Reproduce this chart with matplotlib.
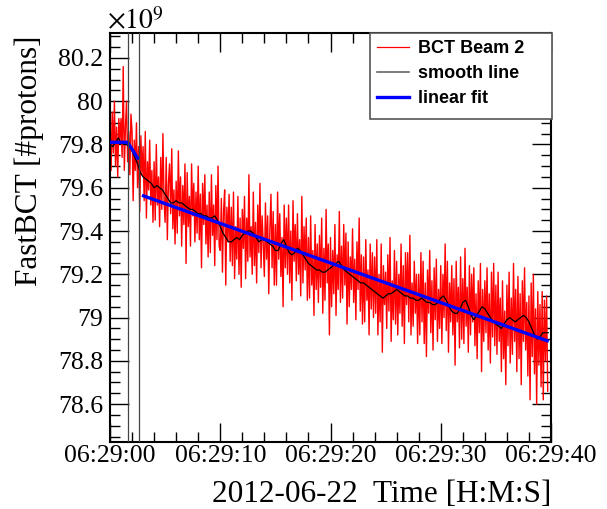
import matplotlib
matplotlib.use("Agg")
import matplotlib.pyplot as plt
from matplotlib.ticker import MultipleLocator, FuncFormatter
from matplotlib.lines import Line2D
from matplotlib.patches import Rectangle
import numpy as np

plt.rcParams["mathtext.fontset"] = "stix"

# ---- data (values in units of 1e9 protons, time in seconds after 06:29:00) ----
red_dt = 0.1
red_values = [
    79.85, 79.68, 79.95, 79.76, 80.00, 79.70, 79.88, 79.65, 79.92, 79.82,
    79.92, 79.74, 80.16, 79.68, 79.88, 80.00, 79.72, 79.86, 79.66, 79.94,
    79.86, 79.54, 79.82, 79.68, 79.90, 79.60, 79.79, 79.49, 79.84, 79.66,
    79.79, 79.54, 79.86, 79.46, 79.72, 79.59, 79.82, 79.52, 79.68, 79.44,
    79.72, 79.45, 79.80, 79.52, 79.65, 79.42, 79.74, 79.50, 79.85, 79.54,
    79.44, 79.74, 79.36, 79.62, 79.71, 79.48, 79.78, 79.41, 79.59, 79.34,
    79.63, 79.39, 79.77, 79.47, 79.65, 79.33, 79.61, 79.43, 79.71, 79.25,
    79.67, 79.42, 79.56, 79.33, 79.71, 79.47, 79.62, 79.35, 79.58, 79.39,
    79.70, 79.36, 79.57, 79.23, 79.62, 79.43, 79.66, 79.34, 79.52, 79.28,
    79.58, 79.30, 79.66, 79.38, 79.52, 79.24, 79.61, 79.36, 79.70, 79.33,
    79.31, 79.55, 79.21, 79.49, 79.59, 79.15, 79.51, 79.35, 79.57, 79.26,
    79.51, 79.24, 79.58, 79.18, 79.42, 79.27, 79.56, 79.20, 79.46, 79.14,
    79.50, 79.32, 79.56, 79.18, 79.46, 79.26, 79.66, 79.28, 79.42, 79.20,
    79.58, 79.24, 79.44, 79.16, 79.52, 79.30, 79.62, 79.23, 79.47, 79.34,
    79.19, 79.53, 79.27, 79.47, 79.11, 79.41, 79.57, 79.23, 79.49, 79.15,
    79.43, 79.15, 79.58, 79.27, 79.48, 79.19, 79.37, 79.05, 79.52, 79.23,
    79.46, 79.20, 79.52, 79.16, 79.40, 79.08, 79.54, 79.26, 79.43, 79.17,
    79.48, 79.20, 79.36, 79.10, 79.56, 79.16, 79.42, 79.22, 79.46, 79.08,
    79.37, 79.09, 79.47, 79.15, 79.31, 79.01, 79.43, 79.13, 79.34, 79.07,
    79.38, 79.14, 79.46, 79.02, 79.32, 79.08, 79.50, 79.16, 79.34, 78.92,
    79.37, 79.05, 79.31, 79.11, 79.43, 79.01, 79.29, 79.13, 79.49, 79.07,
    79.33, 79.09, 79.43, 79.15, 79.39, 78.97, 79.35, 79.05, 79.28, 79.13,
    79.41, 79.07, 79.27, 78.99, 79.35, 79.13, 79.46, 79.03, 79.29, 78.97,
    79.28, 78.98, 79.36, 79.08, 79.22, 78.92, 79.34, 79.04, 79.30, 79.00,
    79.28, 79.02, 79.36, 78.92, 79.20, 78.98, 79.34, 78.84, 79.24, 79.06,
    79.21, 78.95, 79.29, 79.03, 79.37, 78.89, 79.17, 78.99, 79.31, 78.97,
    79.26, 78.92, 79.20, 79.02, 79.34, 78.96, 79.24, 78.88, 79.30, 79.06,
    79.30, 78.98, 79.38, 78.92, 79.16, 78.96, 79.26, 79.02, 79.20, 78.88,
    79.20, 78.92, 79.30, 78.98, 79.26, 78.88, 79.16, 78.82, 79.22, 79.02,
    79.31, 78.93, 79.17, 78.85, 79.23, 78.99, 79.27, 78.89, 79.13, 78.95,
    79.24, 78.88, 79.20, 79.00, 79.34, 78.94, 79.26, 78.84, 79.16, 78.98,
    79.24, 78.92, 79.18, 78.78, 79.26, 78.98, 79.14, 78.86, 79.28, 78.90,
    79.18, 78.88, 79.32, 78.96, 79.14, 78.84, 79.24, 78.92, 79.20, 78.98,
    79.23, 78.87, 79.11, 78.81, 79.17, 78.93, 79.25, 78.75, 79.13, 78.89,
    79.17, 78.93, 79.23, 78.85, 79.11, 78.79, 79.21, 78.91, 79.25, 78.87,
    79.15, 78.83, 79.21, 78.89, 79.09, 78.75, 79.17, 78.81, 79.03, 78.69,
    79.15, 78.87, 79.21, 78.79, 79.09, 78.83, 79.25, 78.89, 79.13, 78.75,
    79.19, 78.81, 79.11, 78.69, 79.17, 78.89, 79.23, 78.85, 79.07, 78.73,
    79.10, 78.62, 79.16, 78.82, 79.20, 78.74, 79.04, 78.60, 79.12, 78.78,
    79.06, 78.68, 79.12, 78.62, 79.08, 78.80, 79.10, 78.66,
]

smooth_dt = 0.25
smooth_values = [
    79.80, 79.79, 79.81, 79.83, 79.81, 79.80, 79.80, 79.79, 79.77, 79.74,
    79.71, 79.67, 79.65, 79.64, 79.63, 79.62, 79.60, 79.61, 79.60, 79.59,
    79.57, 79.55, 79.53, 79.53, 79.54, 79.53, 79.53, 79.52, 79.51, 79.50,
    79.50, 79.49, 79.48, 79.48, 79.47, 79.47, 79.46, 79.46, 79.47, 79.45,
    79.42, 79.39, 79.37, 79.35, 79.35, 79.36, 79.37, 79.36, 79.38, 79.39,
    79.40, 79.40, 79.39, 79.37, 79.35, 79.36, 79.36, 79.35, 79.34, 79.33,
    79.31, 79.31, 79.34, 79.36, 79.33, 79.30, 79.29, 79.30, 79.32, 79.31,
    79.29, 79.27, 79.25, 79.24, 79.23, 79.22, 79.22, 79.21, 79.21, 79.22,
    79.23, 79.24, 79.25, 79.26, 79.24, 79.22, 79.21, 79.20, 79.19, 79.18,
    79.17, 79.16, 79.16, 79.15, 79.14, 79.13, 79.12, 79.11, 79.10, 79.09,
    79.10, 79.11, 79.11, 79.12, 79.13, 79.12, 79.11, 79.10, 79.10, 79.09,
    79.09, 79.08, 79.08, 79.09, 79.08, 79.07, 79.07, 79.06, 79.06, 79.07,
    79.09, 79.10, 79.08, 79.05, 79.03, 79.02, 79.02, 79.04, 79.07, 79.08,
    79.05, 79.01, 78.99, 79.01, 79.03, 79.05, 79.04, 79.02, 79.00, 78.98,
    78.97, 78.96, 78.95, 78.97, 78.99, 79.00, 78.99, 78.98, 78.99, 79.00,
    79.01, 79.00, 78.98, 78.95, 78.92, 78.90, 78.91, 78.93, 78.93, 78.93,
]

fit1_t = [0.0, 1.6, 2.6]
fit1_v = [79.81, 79.81, 79.73]
fit2_t = [2.9, 39.8]
fit2_v = [79.565, 78.89]

marker_lines_t = [1.64, 2.64]

legend_labels = ["BCT Beam 2", "smooth line", "linear fit"]

x_min, x_max = 0, 40
y_min, y_max = 78.425, 80.315
x_major, x_minor = 10, 2
y_major, y_minor = 0.2, 0.05

# ---- figure ----
W, H = 607, 509
fig = plt.figure(figsize=(W / 100, H / 100), dpi=100)
ax_l, ax_r, ax_t, ax_b = 110, 551, 33, 442
ax = fig.add_axes([ax_l / W, 1 - ax_b / H, (ax_r - ax_l) / W, (ax_b - ax_t) / H])

red_t = np.arange(len(red_values)) * red_dt
smooth_t = np.arange(len(smooth_values)) * smooth_dt

ax.plot(red_t, red_values, color="#ff0000", lw=1.0, zorder=2)
ax.plot(smooth_t, smooth_values, color="black", lw=0.9, zorder=3)
ax.plot(fit1_t, fit1_v, color="#0000ff", lw=2.4, zorder=4, solid_capstyle="butt")
ax.plot(fit2_t, fit2_v, color="#0000ff", lw=2.4, zorder=4, solid_capstyle="butt")
for t in marker_lines_t:
    ax.axvline(t, color="#444444", lw=0.9, zorder=5)

ax.set_xlim(x_min, x_max)
ax.set_ylim(y_min, y_max)

serif = ["Liberation Serif", "DejaVu Serif"]
ax.xaxis.set_major_locator(MultipleLocator(x_major))
ax.xaxis.set_minor_locator(MultipleLocator(x_minor))
ax.yaxis.set_major_locator(MultipleLocator(y_major))
ax.yaxis.set_minor_locator(MultipleLocator(y_minor))
ax.xaxis.set_major_formatter(FuncFormatter(lambda v, p: "06:29:%02d" % int(round(v))))
ax.yaxis.set_major_formatter(FuncFormatter(lambda v, p: ("%.1f" % v).rstrip("0").rstrip(".")))

ax.tick_params(which="both", direction="in", top=True, right=True, width=1.0, color="black")
ax.tick_params(which="major", length=14)
ax.tick_params(which="minor", length=7)
ax.tick_params(axis="x", which="major", pad=2.5)
ax.tick_params(axis="y", which="major", pad=5)
for lbl in ax.get_xticklabels() + ax.get_yticklabels():
    lbl.set_fontfamily(serif)
    lbl.set_fontsize(18.5)
for s in ax.spines.values():
    s.set_linewidth(1.5)

fig.text(29 / W, 1 - 35 / H, "FastBCT [#protons]", rotation=90, ha="center", va="top",
         fontsize=22.5, family=serif)
fig.text(ax_r / W, 1 - 502 / H, "2012-06-22  Time [H:M:S]", ha="right", va="baseline",
         fontsize=22.5, family=serif)
fig.text(107 / W, 1 - 29 / H, r"$\times10^{9}$", ha="left", va="baseline",
         fontsize=20)

# legend box (drawn in axes coordinates)
lx0, lx1, ly0, ly1 = 370, 552, 33, 119
def ax_x(px):
    return (px - ax_l) / (ax_r - ax_l)
def ax_y(py):
    return (ax_b - py) / (ax_b - ax_t)
rect = Rectangle((ax_x(lx0), ax_y(ly1)), ax_x(lx1) - ax_x(lx0), ax_y(ly0) - ax_y(ly1),
                 transform=ax.transAxes, facecolor="white", edgecolor="#555555",
                 lw=1.2, zorder=9, clip_on=False)
ax.add_patch(rect)

handles = [
    Line2D([], [], color="#ff0000", lw=0.9),
    Line2D([], [], color="#666666", lw=1.2),
    Line2D([], [], color="#0000ff", lw=2.4),
]
leg = ax.legend(handles, legend_labels,
                loc="upper left", bbox_to_anchor=(ax_x(lx0), ax_y(ly0)),
                prop={"family": "Liberation Sans", "weight": "bold", "size": 13},
                frameon=False, borderpad=0.4, handlelength=1.75, labelspacing=0.45,
                borderaxespad=0.0, handletextpad=0.5)
leg.set_zorder(10)

fig.savefig("out.png", dpi=100)
